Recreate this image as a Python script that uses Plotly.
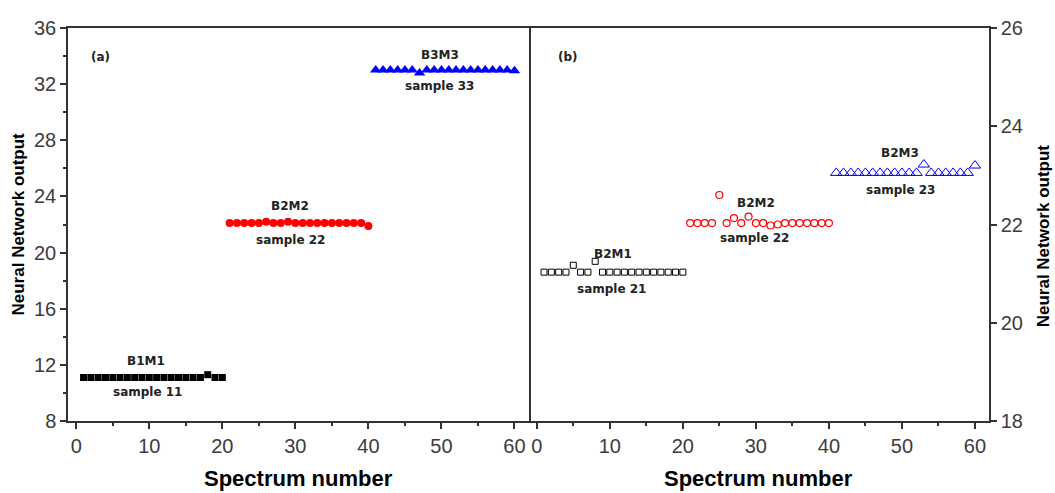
import plotly.graph_objects as go

# ---------------- data ----------------
spec_b1 = [1, 2, 3, 4, 5, 6, 7, 8, 9, 10, 11, 12, 13, 14, 15, 16, 17, 18, 19, 20]
spec_b2 = [21, 22, 23, 24, 25, 26, 27, 28, 29, 30, 31, 32, 33, 34, 35, 36, 37, 38, 39, 40]
spec_b3 = [41, 42, 43, 44, 45, 46, 47, 48, 49, 50, 51, 52, 53, 54, 55, 56, 57, 58, 59, 60]

# panel (a)
b1m1 = [11.1, 11.1, 11.1, 11.1, 11.1, 11.1, 11.1, 11.1, 11.1, 11.1,
        11.1, 11.1, 11.1, 11.1, 11.1, 11.1, 11.1, 11.3, 11.1, 11.1]
b2m2_a = [22.1, 22.1, 22.1, 22.1, 22.1, 22.2, 22.1, 22.1, 22.2, 22.1,
          22.1, 22.1, 22.1, 22.1, 22.1, 22.1, 22.1, 22.1, 22.1, 21.9]
b3m3_a = [33.0, 33.0, 33.0, 33.0, 33.0, 33.0, 32.8, 33.0, 33.0, 33.0,
          33.0, 33.0, 33.0, 33.0, 33.0, 33.0, 33.0, 33.0, 33.0, 32.95]

# panel (b)
b2m1_b = [21.03, 21.03, 21.03, 21.03, 21.17, 21.03, 21.03, 21.25, 21.03, 21.03,
          21.03, 21.03, 21.03, 21.03, 21.03, 21.03, 21.03, 21.03, 21.03, 21.03]
b2m2_b = [22.03, 22.03, 22.03, 22.03, 22.6, 22.03, 22.13, 22.03, 22.16, 22.03,
          22.03, 21.98, 22.0, 22.03, 22.03, 22.03, 22.03, 22.03, 22.03, 22.03]
b2m3_b = [23.05, 23.05, 23.05, 23.05, 23.05, 23.05, 23.05, 23.05, 23.05, 23.05,
          23.05, 23.05, 23.22, 23.05, 23.05, 23.05, 23.05, 23.05, 23.05, 23.2]

yticks_a = [8, 12, 16, 20, 24, 28, 32, 36]
yticks_b = [18, 20, 22, 24, 26]
xticks = [0, 10, 20, 30, 40, 50, 60]

# group labels: (text, x, y)
labels_a = [("B1M1", 9.6, 12.25), ("sample 11", 9.8, 10.05),
            ("B2M2", 29.3, 23.3), ("sample 22", 29.4, 20.9),
            ("B3M3", 49.8, 34.1), ("sample 33", 49.8, 31.85)]
labels_b = [("B2M1", 10.5, 21.4), ("sample 21", 10.3, 20.68),
            ("B2M2", 30.0, 22.44), ("sample 22", 29.8, 21.72),
            ("B2M3", 49.7, 23.45), ("sample 23", 49.8, 22.71)]

# ---------------- figure ----------------
fig = go.Figure()

fig.add_trace(go.Scatter(x=spec_b1, y=b1m1, mode="markers", xaxis="x", yaxis="y",
                         marker=dict(symbol="square", size=7, color="black")))
fig.add_trace(go.Scatter(x=spec_b2, y=b2m2_a, mode="markers", xaxis="x", yaxis="y",
                         marker=dict(symbol="circle", size=8, color="#ff0000")))
fig.add_trace(go.Scatter(x=spec_b3, y=b3m3_a, mode="markers", xaxis="x", yaxis="y",
                         marker=dict(symbol="triangle-up", size=10, color="#0000ff")))

fig.add_trace(go.Scatter(x=spec_b1, y=b2m1_b, mode="markers", xaxis="x2", yaxis="y2",
                         marker=dict(symbol="square-open", size=6, color="black",
                                     line=dict(width=1))))
fig.add_trace(go.Scatter(x=spec_b2, y=b2m2_b, mode="markers", xaxis="x2", yaxis="y2",
                         marker=dict(symbol="circle-open", size=7, color="#ff0000",
                                     line=dict(width=1.2))))
fig.add_trace(go.Scatter(x=spec_b3, y=b2m3_b, mode="markers", xaxis="x2", yaxis="y2",
                         marker=dict(symbol="triangle-up-open", size=10, color="#0000ff",
                                     line=dict(width=1))))

tickfont = dict(family="Liberation Sans Narrow, Arial Narrow, Liberation Sans, Arial",
                size=20, color="#3c3c3c")
axcol = "#333333"

xcommon = dict(range=[-1.13, 61.92], tickvals=xticks, ticks="outside", ticklen=6,
               tickwidth=1.5, tickcolor=axcol, showline=True, linecolor=axcol,
               linewidth=1.5, mirror=True, showgrid=False, zeroline=False,
               tickfont=tickfont,
               minor=dict(dtick=5, tick0=0, ticks="outside", ticklen=3.5,
                          tickwidth=1.5, tickcolor=axcol))

fig.update_layout(
    width=1055, height=493,
    margin=dict(l=68, r=66, t=28, b=72),
    paper_bgcolor="white", plot_bgcolor="white",
    showlegend=False,
    xaxis=dict(domain=[0, 0.5], anchor="y", **xcommon),
    xaxis2=dict(domain=[0.5, 1], anchor="y2", **xcommon),
    yaxis=dict(domain=[0, 1], anchor="x", range=[8, 36], tickvals=yticks_a,
               ticks="outside", ticklen=6, tickwidth=1.5, tickcolor=axcol,
               showline=True, linecolor=axcol, linewidth=1.5, mirror=True,
               showgrid=False, zeroline=False, tickfont=tickfont,
               minor=dict(dtick=2, tick0=8, ticks="outside", ticklen=3.5,
                          tickwidth=1.5, tickcolor=axcol)),
    yaxis2=dict(domain=[0, 1], anchor="x2", side="right", range=[18, 26],
                tickvals=yticks_b, ticks="outside", ticklen=6, tickwidth=1.5,
                tickcolor=axcol, showline=True, linecolor=axcol, linewidth=1.5,
                showgrid=False, zeroline=False, tickfont=tickfont),
)

annfont = dict(family="DejaVu Sans", size=12, color="#222222")
for txt, x, y in labels_a:
    fig.add_annotation(x=x, y=y, xref="x", yref="y", text="<b>%s</b>" % txt,
                       showarrow=False, font=annfont)
for txt, x, y in labels_b:
    fig.add_annotation(x=x, y=y, xref="x2", yref="y2", text="<b>%s</b>" % txt,
                       showarrow=False, font=annfont)

# panel tags
tagfont = dict(family="DejaVu Sans", size=12, color="#222")
fig.add_annotation(xref="x domain", yref="y domain", x=0.045, y=0.95, text="<b>(a)</b>",
                   showarrow=False, font=tagfont)
fig.add_annotation(xref="x2 domain", yref="y2 domain", x=0.06, y=0.95, text="<b>(b)</b>",
                   showarrow=False, font=tagfont)

# axis titles
titlefont = dict(family="Liberation Sans, Arial", size=22, color="black")
fig.add_annotation(xref="x domain", yref="paper", x=0.5, y=0, yshift=-57,
                   text="<b>Spectrum number</b>", showarrow=False, font=titlefont,
                   yanchor="middle")
fig.add_annotation(xref="x2 domain", yref="paper", x=0.5, y=0, yshift=-57,
                   text="<b>Spectrum number</b>", showarrow=False, font=titlefont,
                   yanchor="middle")
ytfont = dict(family="Liberation Sans, Arial", size=17, color="black")
fig.add_annotation(xref="paper", yref="paper", x=0, xshift=-50, y=0.5,
                   text="<b>Neural Network output</b>", textangle=-90,
                   showarrow=False, font=ytfont, xanchor="center")
fig.add_annotation(xref="paper", yref="paper", x=1, xshift=54, y=0.47,
                   text="<b>Neural Network output</b>", textangle=-90,
                   showarrow=False, font=ytfont, xanchor="center")

fig.write_html("out.html")
